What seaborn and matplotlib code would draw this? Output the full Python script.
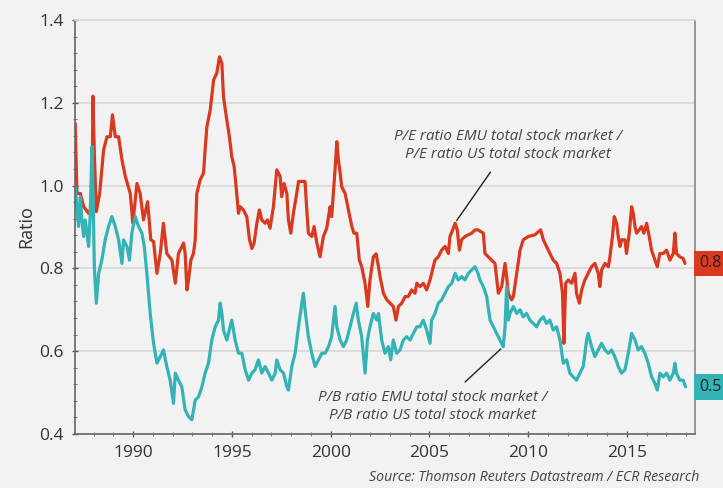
import numpy as np
import pandas as pd
import seaborn as sns
import matplotlib.pyplot as plt
from matplotlib.ticker import MultipleLocator, FormatStrFormatter

# P/E ratio EMU / US (red line)
pe_years = [1987.06, 1987.15, 1987.32, 1987.49, 1987.74, 1987.91, 1987.96, 1988.03, 1988.13, 1988.30,
            1988.50, 1988.67, 1988.84, 1988.95, 1989.09, 1989.26, 1989.43, 1989.60, 1989.85, 1989.98,
            1990.19, 1990.35, 1990.52, 1990.73, 1990.89, 1991.03, 1991.20, 1991.37, 1991.53, 1991.70,
            1991.96, 1992.13, 1992.29, 1992.55, 1992.63, 1992.72, 1992.80, 1992.92, 1993.05, 1993.14,
            1993.22, 1993.39, 1993.56, 1993.64, 1993.73, 1993.90, 1994.07, 1994.23, 1994.37, 1994.49,
            1994.57, 1994.74, 1994.87, 1994.99, 1995.11, 1995.21, 1995.33, 1995.42, 1995.58, 1995.75,
            1995.89, 1996.01, 1996.12, 1996.26, 1996.39, 1996.51, 1996.68, 1996.80, 1996.93, 1997.10,
            1997.27, 1997.44, 1997.52, 1997.64, 1997.78, 1997.86, 1997.98, 1998.11, 1998.28, 1998.37,
            1998.70, 1998.79, 1998.87, 1999.04, 1999.16, 1999.30, 1999.46, 1999.63, 1999.80, 1999.97,
            2000.05, 2000.22, 2000.31, 2000.39, 2000.48, 2000.56, 2000.73, 2000.90, 2001.07, 2001.18,
            2001.32, 2001.45, 2001.57, 2001.74, 2001.88, 2001.99, 2002.16, 2002.30, 2002.42, 2002.50,
            2002.67, 2002.84, 2003.01, 2003.17, 2003.31, 2003.43, 2003.60, 2003.77, 2003.93, 2004.10,
            2004.27, 2004.36, 2004.52, 2004.69, 2004.86, 2005.03, 2005.20, 2005.28, 2005.45, 2005.62,
            2005.79, 2005.96, 2006.04, 2006.18, 2006.30, 2006.41, 2006.52, 2006.63, 2006.80, 2006.97,
            2007.14, 2007.31, 2007.46, 2007.73, 2007.81, 2007.98, 2008.15, 2008.32, 2008.49, 2008.66,
            2008.83, 2008.91, 2008.99, 2009.16, 2009.25, 2009.42, 2009.59, 2009.75, 2010.01, 2010.34,
            2010.63, 2010.77, 2010.93, 2011.10, 2011.27, 2011.44, 2011.61, 2011.74, 2011.81, 2011.90,
            2012.03, 2012.20, 2012.37, 2012.45, 2012.59, 2012.71, 2012.87, 2013.04, 2013.21, 2013.38,
            2013.55, 2013.63, 2013.72, 2013.89, 2014.06, 2014.14, 2014.27, 2014.36, 2014.48, 2014.56,
            2014.65, 2014.73, 2014.90, 2014.98, 2015.12, 2015.24, 2015.32, 2015.41, 2015.49, 2015.62,
            2015.74, 2015.86, 2016.00, 2016.13, 2016.25, 2016.42, 2016.54, 2016.67, 2016.84, 2017.01,
            2017.18, 2017.35, 2017.43, 2017.51, 2017.68, 2017.85, 2017.94]
pe_values = [1.150, 0.981, 0.981, 0.949, 0.933, 0.949, 1.216, 1.078, 0.937, 0.981,
             1.086, 1.118, 1.118, 1.171, 1.118, 1.118, 1.062, 1.022, 0.981, 0.909,
             1.005, 0.981, 0.917, 0.961, 0.869, 0.865, 0.788, 0.836, 0.909, 0.836,
             0.820, 0.764, 0.836, 0.861, 0.836, 0.748, 0.772, 0.820, 0.836, 0.869,
             0.981, 1.014, 1.030, 1.086, 1.142, 1.183, 1.255, 1.271, 1.311, 1.295,
             1.215, 1.158, 1.118, 1.070, 1.046, 0.997, 0.933, 0.949, 0.941, 0.925,
             0.869, 0.848, 0.861, 0.909, 0.941, 0.917, 0.909, 0.917, 0.897, 0.949,
             1.038, 1.022, 0.973, 1.005, 0.981, 0.917, 0.885, 0.933, 0.981, 1.010,
             1.010, 0.941, 0.885, 0.877, 0.901, 0.861, 0.828, 0.877, 0.897, 0.949,
             0.925, 1.038, 1.106, 1.062, 1.030, 0.997, 0.981, 0.941, 0.901, 0.885,
             0.885, 0.820, 0.804, 0.764, 0.708, 0.772, 0.828, 0.835, 0.804, 0.780,
             0.740, 0.724, 0.716, 0.708, 0.675, 0.708, 0.716, 0.732, 0.732, 0.748,
             0.740, 0.764, 0.756, 0.764, 0.748, 0.772, 0.804, 0.820, 0.828, 0.844,
             0.853, 0.836, 0.877, 0.893, 0.909, 0.893, 0.844, 0.869, 0.877, 0.881,
             0.885, 0.893, 0.893, 0.885, 0.836, 0.828, 0.820, 0.812, 0.740, 0.756,
             0.812, 0.780, 0.740, 0.724, 0.732, 0.788, 0.844, 0.869, 0.877, 0.881,
             0.893, 0.869, 0.853, 0.836, 0.820, 0.812, 0.788, 0.740, 0.619, 0.764,
             0.772, 0.764, 0.788, 0.740, 0.716, 0.748, 0.772, 0.788, 0.804, 0.812,
             0.788, 0.756, 0.796, 0.812, 0.804, 0.828, 0.877, 0.925, 0.909, 0.877,
             0.853, 0.869, 0.869, 0.836, 0.885, 0.949, 0.933, 0.901, 0.885, 0.893,
             0.901, 0.885, 0.909, 0.877, 0.844, 0.820, 0.804, 0.836, 0.836, 0.844,
             0.820, 0.836, 0.885, 0.836, 0.828, 0.824, 0.812]

# P/B ratio EMU / US (teal line)
pb_years = [1987.06, 1987.15, 1987.23, 1987.32, 1987.40, 1987.49, 1987.57, 1987.66, 1987.74, 1987.82,
            1987.91, 1987.96, 1988.03, 1988.13, 1988.25, 1988.41, 1988.58, 1988.75, 1988.92, 1989.09,
            1989.26, 1989.43, 1989.51, 1989.68, 1989.81, 1989.93, 1990.10, 1990.27, 1990.44, 1990.56,
            1990.69, 1990.86, 1991.03, 1991.20, 1991.37, 1991.53, 1991.70, 1991.87, 1992.04, 1992.13,
            1992.29, 1992.46, 1992.63, 1992.80, 1992.97, 1993.14, 1993.31, 1993.48, 1993.64, 1993.81,
            1993.98, 1994.15, 1994.32, 1994.40, 1994.49, 1994.57, 1994.74, 1994.91, 1994.99, 1995.16,
            1995.33, 1995.50, 1995.67, 1995.84, 1996.01, 1996.17, 1996.34, 1996.51, 1996.68, 1996.85,
            1997.02, 1997.19, 1997.27, 1997.44, 1997.61, 1997.78, 1997.86, 1998.03, 1998.20, 1998.37,
            1998.54, 1998.62, 1998.70, 1998.87, 1999.04, 1999.21, 1999.38, 1999.55, 1999.72, 1999.89,
            2000.05, 2000.22, 2000.31, 2000.48, 2000.64, 2000.81, 2000.98, 2001.15, 2001.29, 2001.40,
            2001.57, 2001.74, 2001.86, 2001.99, 2002.16, 2002.33, 2002.42, 2002.58, 2002.75, 2002.92,
            2003.04, 2003.17, 2003.34, 2003.51, 2003.68, 2003.85, 2004.02, 2004.19, 2004.36, 2004.52,
            2004.69, 2004.86, 2005.03, 2005.11, 2005.28, 2005.45, 2005.62, 2005.79, 2005.96, 2006.13,
            2006.30, 2006.46, 2006.63, 2006.80, 2006.97, 2007.14, 2007.31, 2007.46, 2007.56, 2007.73,
            2007.90, 2008.07, 2008.24, 2008.40, 2008.57, 2008.74, 2008.83, 2008.91, 2008.99, 2009.08,
            2009.25, 2009.42, 2009.59, 2009.75, 2009.92, 2010.09, 2010.26, 2010.43, 2010.60, 2010.77,
            2010.93, 2011.10, 2011.27, 2011.44, 2011.61, 2011.78, 2011.95, 2012.11, 2012.28, 2012.45,
            2012.62, 2012.79, 2012.96, 2013.04, 2013.21, 2013.38, 2013.55, 2013.72, 2013.89, 2014.06,
            2014.22, 2014.39, 2014.56, 2014.73, 2014.90, 2015.07, 2015.24, 2015.41, 2015.57, 2015.74,
            2015.91, 2016.08, 2016.25, 2016.42, 2016.54, 2016.67, 2016.84, 2017.01, 2017.18, 2017.35,
            2017.43, 2017.51, 2017.68, 2017.85, 2017.97]
pb_values = [0.997, 0.949, 0.901, 0.973, 0.917, 0.877, 0.917, 0.885, 0.853, 0.925,
             1.094, 0.997, 0.804, 0.716, 0.788, 0.820, 0.869, 0.901, 0.925, 0.901,
             0.869, 0.812, 0.869, 0.853, 0.820, 0.885, 0.925, 0.901, 0.885, 0.853,
             0.788, 0.691, 0.619, 0.571, 0.587, 0.603, 0.563, 0.530, 0.474, 0.547,
             0.530, 0.514, 0.458, 0.442, 0.434, 0.482, 0.490, 0.514, 0.547, 0.571,
             0.627, 0.659, 0.675, 0.716, 0.691, 0.651, 0.627, 0.659, 0.675, 0.627,
             0.595, 0.595, 0.555, 0.530, 0.547, 0.555, 0.579, 0.547, 0.563, 0.547,
             0.530, 0.547, 0.579, 0.555, 0.547, 0.514, 0.506, 0.563, 0.595, 0.659,
             0.716, 0.740, 0.700, 0.635, 0.595, 0.563, 0.579, 0.595, 0.595, 0.611,
             0.635, 0.708, 0.659, 0.627, 0.611, 0.627, 0.659, 0.691, 0.716, 0.675,
             0.635, 0.547, 0.627, 0.659, 0.691, 0.675, 0.691, 0.627, 0.595, 0.611,
             0.579, 0.627, 0.595, 0.603, 0.627, 0.635, 0.627, 0.643, 0.659, 0.659,
             0.675, 0.651, 0.619, 0.675, 0.691, 0.716, 0.724, 0.740, 0.756, 0.764,
             0.788, 0.772, 0.780, 0.772, 0.788, 0.796, 0.804, 0.788, 0.772, 0.756,
             0.732, 0.675, 0.659, 0.643, 0.627, 0.611, 0.659, 0.756, 0.675, 0.691,
             0.708, 0.691, 0.700, 0.683, 0.691, 0.675, 0.667, 0.659, 0.675, 0.683,
             0.667, 0.675, 0.651, 0.659, 0.627, 0.571, 0.579, 0.547, 0.538, 0.530,
             0.547, 0.563, 0.627, 0.643, 0.611, 0.587, 0.603, 0.619, 0.603, 0.595,
             0.603, 0.587, 0.563, 0.547, 0.555, 0.595, 0.643, 0.627, 0.603, 0.611,
             0.595, 0.571, 0.538, 0.522, 0.506, 0.547, 0.538, 0.547, 0.530, 0.547,
             0.571, 0.547, 0.530, 0.530, 0.514]

x_ticks = [1990, 1995, 2000, 2005, 2010, 2015]
y_ticks = [0.4, 0.6, 0.8, 1.0, 1.2, 1.4]
# right-edge value tags as visible in the picture (cut by the frame edge)
last_labels = ["0.8", "0.5"]

pe_label = "P/E ratio EMU total stock market /\nP/E ratio US total stock market"
pb_label = "P/B ratio EMU total stock market /\nP/B ratio US total stock market"
source_text = "Source: Thomson Reuters Datastream / ECR Research"

red = "#d8391f"
teal = "#33b3b5"
bg = "#f2f2f2"
grid_col = "#d9d9d9"
text_col = "#333333"

sns.set_theme(style="ticks")
plt.rcParams["font.family"] = ["Open Sans", "DejaVu Sans"]

pe = pd.DataFrame({"year": pe_years, "ratio": pe_values})
pb = pd.DataFrame({"year": pb_years, "ratio": pb_values})

fig = plt.figure(figsize=(7.23, 4.88), dpi=100, facecolor=bg)
ax = fig.add_axes([0.1037, 0.1107, 0.8576, 0.8484], facecolor=bg)

sns.lineplot(data=pe, x="year", y="ratio", ax=ax, color=red, lw=2.3, estimator=None)
sns.lineplot(data=pb, x="year", y="ratio", ax=ax, color=teal, lw=2.3, estimator=None)

ax.set_xlim(1987.05, 2018.45)
ax.set_ylim(0.4, 1.4)
ax.set_xticks(x_ticks)
ax.set_yticks(y_ticks)
ax.yaxis.set_major_formatter(FormatStrFormatter("%.1f"))
ax.xaxis.set_minor_locator(MultipleLocator(1))
ax.yaxis.set_minor_locator(MultipleLocator(0.04))
ax.tick_params(axis="both", which="major", labelsize=12.5, colors="#555555",
               labelcolor=text_col, length=4, width=1, direction="inout")
ax.tick_params(axis="both", which="minor", colors="#777777", length=3, width=0.8, direction="inout")
ax.tick_params(axis="x", pad=6)
ax.tick_params(axis="y", pad=6)

ax.grid(axis="y", color=grid_col, lw=1.3)
ax.set_axisbelow(True)
for side in ["left", "bottom"]:
    ax.spines[side].set_color("#666666")
    ax.spines[side].set_linewidth(1.2)
ax.spines["right"].set_color("#888888")
ax.spines["right"].set_linewidth(1.2)
ax.spines["top"].set_color(grid_col)
ax.spines["top"].set_linewidth(1.3)

ax.set_xlabel("")
ax.set_ylabel("Ratio", fontsize=13, color=text_col, labelpad=3)

# annotations with leader lines
ax.text(2008.98, 1.096, pe_label, ha="center", va="center", fontsize=11,
        style="italic", color="#444444", linespacing=1.3)
ax.annotate("", xy=(2006.30, 0.910), xytext=(2008.17, 1.038),
            arrowprops=dict(arrowstyle="-", color="#222222", lw=1))
ax.text(2005.15, 0.466, pb_label, ha="center", va="center", fontsize=11,
        style="italic", color="#444444", linespacing=1.3)
ax.annotate("", xy=(2008.72, 0.610), xytext=(2006.70, 0.521),
            arrowprops=dict(arrowstyle="-", color="#222222", lw=1))

# last value boxes on the right edge
for val, lab, col in [(pe_values[-1], last_labels[0], red), (pb_values[-1], last_labels[1], teal)]:
    ax.annotate(lab, xy=(1.0, val), xycoords=("axes fraction", "data"),
                xytext=(3, 0), textcoords="offset points", ha="left", va="center",
                fontsize=11.5, color="#222222", annotation_clip=False,
                bbox=dict(boxstyle="square,pad=0.3", fc=col, ec="none"))

fig.text(0.968, 0.021, source_text, ha="right", va="center", fontsize=10.2,
         style="italic", color="#444444")

fig.savefig("out.png", dpi=100, facecolor=bg)
